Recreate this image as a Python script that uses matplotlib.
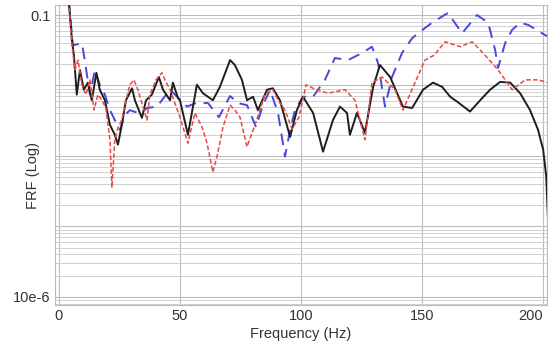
import numpy as np
import matplotlib
matplotlib.use('Agg')
import matplotlib.pyplot as plt
from matplotlib.ticker import FixedLocator, NullFormatter

# frequency (Hz) and log10(FRF)
f_black = [4.1, 5.4, 6.2, 7.4, 8.7, 10.3, 12.0, 13.6, 15.5, 16.9, 19.0, 21.1, 23.1, 24.4,
           26.0, 27.7, 30.2, 31.4, 34.3, 36.0, 38.4, 41.3, 43.0, 45.9, 47.1, 49.2, 50.0,
           53.3, 57.0, 59.5, 63.6, 66.5, 70.7, 72.7, 75.6, 77.7, 80.2, 82.2, 86.0, 88.4,
           91.3, 95.5, 98.3, 100.8, 105.0, 109.1, 113.2, 116.1, 119.0, 120.2, 123.1, 126.4,
           129.8, 132.6, 136.8, 142.1, 145.9, 150.4, 154.5, 158.3, 161.6, 164.5, 169.8,
           174.0, 178.1, 182.2, 186.4, 190.5, 194.6, 197.9, 200.0, 201.3, 202.0]
l_black = [-0.80, -1.36, -1.57, -2.13, -1.78, -2.06, -1.96, -2.21, -1.82, -2.06, -2.21, -2.56, -2.70, -2.84,
           -2.56, -2.21, -2.04, -2.21, -2.46, -2.21, -2.13, -1.88, -2.06, -2.21, -1.96, -2.18, -2.21,
           -2.70, -1.99, -2.11, -2.21, -2.02, -1.64, -1.71, -1.92, -2.21, -2.16, -2.35, -2.06, -2.04,
           -2.21, -2.73, -2.35, -2.16, -2.39, -2.94, -2.49, -2.30, -2.39, -2.70, -2.39, -2.67,
           -2.02, -1.71, -1.88, -2.30, -2.32, -2.06, -1.96, -2.02, -2.16, -2.23, -2.37,
           -2.21, -2.06, -1.95, -1.96, -2.11, -2.35, -2.63, -2.91, -3.30, -3.90]

f_red = [4.1, 5.4, 6.6, 7.9, 9.5, 11.2, 12.8, 14.5, 16.1, 17.8, 19.4, 21.1, 21.9, 23.1,
         24.4, 26.0, 27.7, 29.3, 31.0, 32.6, 36.4, 37.6, 40.1, 42.6, 43.8, 45.9, 50.0,
         53.3, 56.2, 59.1, 61.2, 63.6, 65.3, 67.8, 70.7, 72.7, 74.8, 77.7, 81.0, 85.1,
         88.4, 90.5, 93.4, 96.3, 99.2, 102.1, 106.2, 111.2, 118.2, 122.3, 126.4, 129.3,
         133.5, 138.8, 142.1, 147.1, 151.2, 155.0, 159.5, 165.7, 170.7, 176.0, 181.4,
         187.2, 192.6, 197.9, 202.1]
l_red = [-0.80, -1.43, -1.78, -1.64, -1.99, -2.13, -1.92, -2.35, -2.13, -2.21, -2.32, -2.77, -3.45, -2.77,
         -2.60, -2.49, -2.21, -1.99, -1.92, -2.06, -2.49, -2.13, -1.92, -1.82, -1.92, -2.06, -2.45,
         -2.82, -2.39, -2.59, -2.82, -3.23, -3.01, -2.59, -2.28, -2.35, -2.45, -2.87, -2.56, -2.13,
         -2.06, -2.21, -2.35, -2.62, -2.45, -1.99, -2.06, -2.11, -2.06, -2.21, -2.77, -1.96,
         -1.88, -2.06, -2.35, -1.96, -1.64, -1.57, -1.38, -1.45, -1.38, -1.57, -1.78,
         -2.06, -1.92, -1.92, -1.96]

f_blue = [4.1, 5.8, 9.5, 10.7, 12.8, 14.9, 16.9, 19.0, 21.1, 23.1, 25.2, 27.3, 29.3, 33.5,
          36.4, 40.5, 45.9, 52.9, 56.6, 61.6, 66.1, 70.7, 74.0, 77.7, 81.4, 84.3, 87.2,
          90.5, 92.1, 93.4, 95.5, 97.5, 100.8, 105.0, 109.9, 114.0, 119.4, 125.2, 129.3,
          131.8, 134.7, 137.6, 141.7, 145.9, 148.3, 154.1, 160.7, 166.5, 172.7, 177.3,
          180.2, 181.4, 184.3, 187.2, 190.5, 193.8, 199.6, 202.1]
l_blue = [-0.80, -1.43, -1.40, -1.64, -2.13, -1.78, -1.99, -2.13, -2.35, -2.49, -2.63, -2.42, -2.35, -2.40,
          -2.32, -2.30, -2.06, -2.30, -2.25, -2.25, -2.45, -2.15, -2.25, -2.28, -2.59, -2.28, -2.06,
          -2.39, -2.73, -3.01, -2.63, -2.35, -2.16, -2.16, -1.92, -1.61, -1.64, -1.54, -1.45,
          -1.68, -2.30, -1.88, -1.54, -1.33, -1.26, -1.11, -0.97, -1.26, -1.00, -1.11,
          -1.50, -1.75, -1.40, -1.21, -1.11, -1.14, -1.26, -1.31]

x_ticks = [0, 50, 100, 150, 200]
y_decades = [1e-5, 1e-4, 1e-3, 1e-2, 1e-1]
y_labels = ['10e-6', '', '', '', '0.1']

plt.rcParams['font.family'] = ['Liberation Sans', 'DejaVu Sans']

fig = plt.figure(figsize=(5.5, 3.52), dpi=100)
ax = fig.add_axes([0.1, 0.134, 0.895, 0.852])

ax.plot(f_black, 10.0**np.array(l_black), color='#1e1e1e', lw=1.4, zorder=3)
ax.plot(f_red, 10.0**np.array(l_red), color='#e84848', lw=1.1, dashes=(3, 1.5), zorder=4)
ax.plot(f_blue, 10.0**np.array(l_blue), color='#4848dd', lw=1.4, dashes=(6, 4), zorder=2)

ax.set_yscale('log')
ax.set_xlim(-1.6, 201.7)
ax.set_ylim(7.7e-6, 0.139)

ax.set_xticks(x_ticks)
ax.set_yticks(y_decades)
ax.set_yticklabels(y_labels)
minor = [m * d for d in [1e-6, 1e-5, 1e-4, 1e-3, 1e-2, 1e-1] for m in range(2, 10)]
ax.yaxis.set_minor_locator(FixedLocator(minor))
ax.yaxis.set_minor_formatter(NullFormatter())

ax.grid(True, which='major', color='#bdbdbd', lw=0.8)
ax.grid(True, which='minor', axis='y', color='#d0d0d0', lw=0.7)
ax.set_axisbelow(True)

ax.tick_params(which='both', length=0, labelsize=10.5, labelcolor='#333333', pad=3)
for s in ax.spines.values():
    s.set_color('#bbbbbb')
    s.set_linewidth(0.8)

# last x label sits inside the frame, flush with the right edge
xl = ax.get_xticklabels()
xl[-1].set_horizontalalignment('right')
xl[-1].set_x(201.7)

ax.set_xlabel('Frequency (Hz)', fontsize=10.5, color='#333333', labelpad=3)
ax.set_ylabel('FRF (Log)', fontsize=10.5, color='#333333')
ax.yaxis.set_label_coords(-0.03, 0.43)

fig.savefig('out.png', dpi=100)
